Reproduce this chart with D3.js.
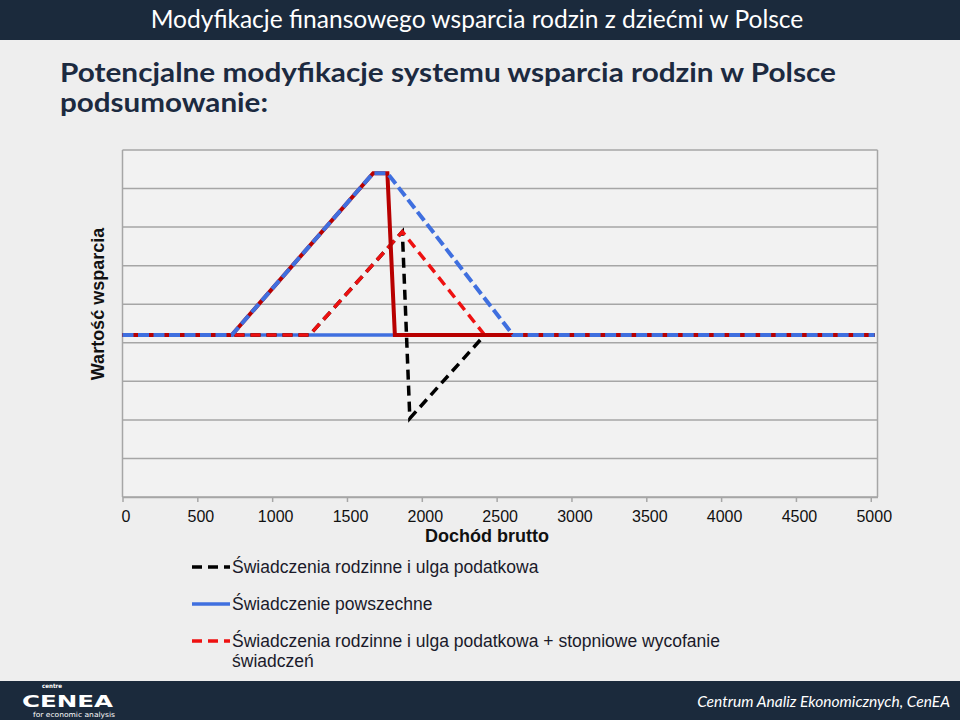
<!DOCTYPE html>
<meta charset="utf-8">
<style>
  body { margin: 0; background: #eeeeee; }
  svg { display: block; }
</style>
<body>
<div id="chart"></div>
<script src="https://d3js.org/d3.v7.min.js"></script>
<script>
  // dane (jednostki osi Y umowne, siatka co 10)
  const xTicks = [0, 500, 1000, 1500, 2000, 2500, 3000, 3500, 4000, 4500, 5000];
  const yGrid = [-40, -30, -20, -10, 0, 10, 20, 30, 40, 50];

  const legendNames = [
    'Świadczenia rodzinne i ulga podatkowa',
    'Świadczenie powszechne',
    'Świadczenia rodzinne i ulga podatkowa + stopniowe wycofanie świadczeń'
  ];

  const powszechneX = [0, 5025];
  const powszechneY = [2, 2];
  const rodzinneX = [0, 1250, 1870, 1920, 2420, 5025];
  const rodzinneY = [2, 2, 28.8, -19.6, 2, 2];
  const wycofanieX = [0, 1250, 1870, 2420, 5025];
  const wycofanieY = [2, 2, 28.8, 2, 2];
  const ciemnyX = [0, 730, 1675, 1770, 1820, 5025];
  const ciemnyY = [2, 2, 44, 44, 2, 2];
  const niebieskiX = [0, 730, 1675, 1770, 2610, 5025];
  const niebieskiY = [2, 2, 44, 44, 2, 2];

  const navy = '#1b2a3c';
  const blue = '#3f6fdf';
  const darkRed = '#b80000';
  const red = '#ee1111';

  const svg = d3.select('#chart').append('svg')
      .attr('width', 960)
      .attr('height', 720);

  svg.append('rect').attr('width', 960).attr('height', 720).attr('fill', '#eeeeee');

  // dopasowanie rozmiaru czcionki do szerokości
  function fit(sel, width) {
    const w = sel.node().getComputedTextLength();
    const fs = parseFloat(sel.attr('font-size'));
    sel.attr('font-size', fs * width / w);
    return fs * width / w;
  }

  // nagłówek
  svg.append('rect').attr('width', 960).attr('height', 40).attr('fill', navy);
  const head = svg.append('text')
      .attr('x', 477).attr('y', 28)
      .attr('text-anchor', 'middle')
      .attr('font-family', 'Lato, "Open Sans", sans-serif')
      .attr('font-size', 22)
      .attr('fill', '#ffffff')
      .text('Modyfikacje finansowego wsparcia rodzin z dziećmi w Polsce');
  fit(head, 653);

  // tytuł
  svg.append('text')
      .attr('x', 60).attr('y', 82)
      .attr('font-family', 'Lato, "Open Sans", sans-serif')
      .attr('font-weight', 'bold')
      .attr('font-size', 27)
      .attr('textLength', 776)
      .attr('lengthAdjust', 'spacingAndGlyphs')
      .attr('fill', '#1c2a40')
      .text('Potencjalne modyfikacje systemu wsparcia rodzin w Polsce');
  svg.append('text')
      .attr('x', 60).attr('y', 112)
      .attr('font-family', 'Lato, "Open Sans", sans-serif')
      .attr('font-weight', 'bold')
      .attr('font-size', 27)
      .attr('textLength', 208)
      .attr('lengthAdjust', 'spacingAndGlyphs')
      .attr('fill', '#1c2a40')
      .text('podsumowanie:');

  // wykres
  const x = d3.scaleLinear().domain([0, 5045]).range([122.5, 877.5]);
  const y = d3.scaleLinear().domain([-40, 50]).range([497, 150]);

  const plot = svg.append('g');
  plot.append('rect')
      .attr('x', x(0)).attr('y', y(50))
      .attr('width', x(5045) - x(0)).attr('height', y(-40) - y(50))
      .attr('fill', '#f2f2f2');

  plot.selectAll('line.grid').data(yGrid).enter().append('line')
      .attr('class', 'grid')
      .attr('x1', x(0)).attr('x2', x(5045))
      .attr('y1', d => y(d)).attr('y2', d => y(d))
      .attr('stroke', '#a6a6a6').attr('stroke-width', 1.5);

  plot.append('line')
      .attr('x1', x(5045)).attr('x2', x(5045))
      .attr('y1', y(50)).attr('y2', y(-40))
      .attr('stroke', '#a6a6a6').attr('stroke-width', 1.5);
  plot.append('line')
      .attr('x1', x(0)).attr('x2', x(0))
      .attr('y1', y(50)).attr('y2', y(-40))
      .attr('stroke', '#a6a6a6').attr('stroke-width', 1.5);

  const xAxis = svg.append('g')
      .attr('transform', `translate(0,${y(-40)})`)
      .call(d3.axisBottom(x).tickValues(xTicks).tickSize(5).tickSizeOuter(0).tickFormat(d3.format('d')));
  xAxis.select('.domain').attr('stroke', '#a6a6a6').attr('stroke-width', 1.5);
  xAxis.selectAll('.tick line').attr('stroke', '#a6a6a6').attr('stroke-width', 1.5);
  xAxis.selectAll('.tick text')
      .attr('dx', 3).attr('y', 14).attr('dy', '0.71em')
      .attr('font-family', '"Liberation Sans", Arial, sans-serif')
      .attr('font-size', 16)
      .attr('fill', '#111111');

  svg.append('text')
      .attr('x', 487).attr('y', 542)
      .attr('text-anchor', 'middle')
      .attr('font-family', '"Liberation Sans", Arial, sans-serif')
      .attr('font-weight', 'bold')
      .attr('font-size', 18)
      .attr('fill', '#111111')
      .text('Dochód brutto');

  svg.append('text')
      .attr('transform', 'translate(104,304) rotate(-90)')
      .attr('text-anchor', 'middle')
      .attr('font-family', '"Liberation Sans", Arial, sans-serif')
      .attr('font-weight', 'bold')
      .attr('font-size', 18)
      .attr('fill', '#111111')
      .text('Wartość wsparcia');

  // linie (kolejność rysowania od spodu)
  const zip = (xs, ys) => xs.map((v, i) => [v, ys[i]]);
  const line = d3.line().x(d => x(d[0])).y(d => y(d[1]));
  const series = [
    { pts: zip(powszechneX, powszechneY), color: blue, width: 3.5, dash: null },
    { pts: zip(rodzinneX, rodzinneY), color: '#000000', width: 3.5, dash: '10,6' },
    { pts: zip(wycofanieX, wycofanieY), color: red, width: 3.5, dash: '10,6' },
    { pts: zip(ciemnyX, ciemnyY), color: darkRed, width: 4, dash: null },
    { pts: zip(niebieskiX, niebieskiY), color: blue, width: 4, dash: '11,4.5' }
  ];
  svg.append('g').selectAll('path').data(series).enter().append('path')
      .attr('d', d => line(d.pts))
      .attr('fill', 'none')
      .attr('stroke', d => d.color)
      .attr('stroke-width', d => d.width)
      .attr('stroke-dasharray', d => d.dash)
      .attr('stroke-linejoin', 'miter');

  // legenda
  const legend = [
    { name: legendNames[0], color: '#000000', dash: '10,6', y: 567 },
    { name: legendNames[1], color: blue, dash: null, y: 604 },
    { name: legendNames[2], color: red, dash: '10,6', y: 641 }
  ];
  const lg = svg.append('g').selectAll('g').data(legend).enter().append('g')
      .attr('transform', d => `translate(192,${d.y})`);
  lg.append('line')
      .attr('x1', 0).attr('x2', 38)
      .attr('stroke', d => d.color).attr('stroke-width', 3.5)
      .attr('stroke-dasharray', d => d.dash);
  lg.append('text')
      .attr('x', 40).attr('y', 0)
      .attr('font-family', '"Liberation Sans", Arial, sans-serif')
      .attr('font-size', 17.5)
      .attr('fill', '#1a1a2a')
      .each(function (d) {
        const t = d3.select(this);
        const parts = d.name === legendNames[2]
            ? ['Świadczenia rodzinne i ulga podatkowa + stopniowe wycofanie', 'świadczeń']
            : [d.name];
        parts.forEach((p, i) => t.append('tspan').attr('x', 40).attr('dy', i ? 20 : '0.35em').text(p));
      });

  // stopka
  svg.append('rect').attr('y', 681).attr('width', 960).attr('height', 39).attr('fill', navy);
  const foot = svg.append('text')
      .attr('x', 950).attr('y', 707)
      .attr('text-anchor', 'end')
      .attr('font-family', 'Lato, "Open Sans", sans-serif')
      .attr('font-style', 'italic')
      .attr('font-size', 16)
      .attr('fill', '#ffffff')
      .text('Centrum Analiz Ekonomicznych, CenEA');
  fit(foot, 253);

  const logo = svg.append('g').attr('fill', '#ffffff').attr('font-family', '"DejaVu Sans", "Liberation Sans", sans-serif');
  logo.append('text').attr('x', 42).attr('y', 687.5).attr('font-size', 6).attr('font-weight', 'bold')
      .attr('textLength', 20).attr('lengthAdjust', 'spacingAndGlyphs').text('centre');
  logo.append('text').attr('x', 22).attr('y', 707)
      .attr('font-size', 16.5).attr('font-weight', 'bold')
      .attr('textLength', 91).attr('lengthAdjust', 'spacingAndGlyphs')
      .text('CENEA');
  logo.append('text').attr('x', 33).attr('y', 717)
      .attr('font-size', 7)
      .attr('textLength', 82).attr('lengthAdjust', 'spacingAndGlyphs')
      .text('for economic analysis');
</script>
